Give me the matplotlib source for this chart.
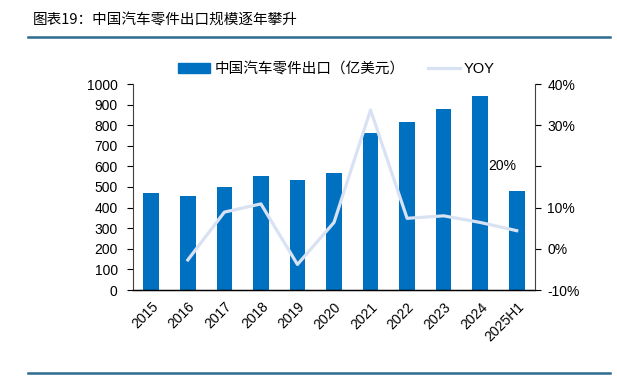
import matplotlib.pyplot as plt
from matplotlib import rcParams
from matplotlib.lines import Line2D

rcParams['font.family'] = ['Liberation Sans', 'Noto Sans CJK SC', 'DejaVu Sans']
rcParams['font.size'] = 10

# 数据
years = ["2015", "2016", "2017", "2018", "2019", "2020", "2021", "2022", "2023", "2024", "2025H1"]
export_value = [469, 458, 498, 552, 534, 569, 764, 816, 880, 940, 481]   # 亿美元
yoy = [None, -2.7, 8.9, 10.9, -3.8, 6.4, 33.7, 7.4, 8.0, 6.4, 4.4]        # %

bar_color = '#0070C0'
line_color = '#D9E2F3'
rule_color = '#2F6B8F'

fig = plt.figure(figsize=(6.17, 3.8), dpi=100)
ax = fig.add_axes([133/617, 1 - 290/380, 402/617, 206/380])
ax2 = ax.twinx()

x = list(range(len(years)))
ax.bar(x, export_value, width=0.43, color=bar_color, zorder=2)
ax2.plot(x[1:], yoy[1:], color=line_color, lw=2.3, zorder=3)

ax.set_xlim(-0.5, len(years) - 0.5)
ax.set_ylim(0, 1000)
ax.set_yticks(range(0, 1001, 100))
ax.set_xticks(x)
ax.set_xticklabels(years, rotation=45, ha='right', rotation_mode='anchor')
ax.tick_params(axis='x', length=0, pad=7)
ax.tick_params(axis='y', length=4, width=0.8, pad=7)

ax2.set_ylim(-10, 40)
ax2.set_yticks([-10, 0, 10, 20, 30, 40])
ax2.set_yticklabels(['-10%', '0%', '10%', '', '30%', '40%'])
ax2.tick_params(axis='y', length=4, width=0.8, pad=5)
# 20% 标签在原图中偏到了图内
ax2.text(0.883, 20, '20%', transform=ax2.get_yaxis_transform(), ha='left', va='center')

for a in (ax, ax2):
    a.spines['top'].set_visible(False)
ax2.spines['left'].set_visible(False)
ax.spines['right'].set_visible(False)
ax.spines['bottom'].set_linewidth(1.0)
ax.spines['left'].set_color('#404040')
ax2.spines['right'].set_color('#404040')
ax2.patch.set_visible(False)

# 图例
handles = [plt.Rectangle((0, 0), 1, 1, color=bar_color),
           Line2D([], [], color=line_color, lw=2.3)]
labels = ['中国汽车零件出口（亿美元）', 'YOY']
leg = fig.legend(handles, labels, loc='center', bbox_to_anchor=(0.545, 0.818), ncol=2,
                 frameon=False, handlelength=2.2, handleheight=0.7, columnspacing=1.6,
                 handletextpad=0.3, fontsize=10.5)
leg.get_texts()[0].set_family(['Noto Sans CJK SC'])

# 标题与分隔线
fig.text(33/617, 1 - 20/380, '图表19：中国汽车零件出口规模逐年攀升', ha='left', va='center',
         fontsize=10.5, style='italic', weight='medium', family=['Noto Sans CJK SC'])
fig.add_artist(Line2D([28/617, 610/617], [1 - 37/380, 1 - 37/380], color=rule_color, lw=1.8))
fig.add_artist(Line2D([28/617, 610/617], [1 - 373/380, 1 - 373/380], color=rule_color, lw=1.8))

fig.savefig('out.png', dpi=100)
